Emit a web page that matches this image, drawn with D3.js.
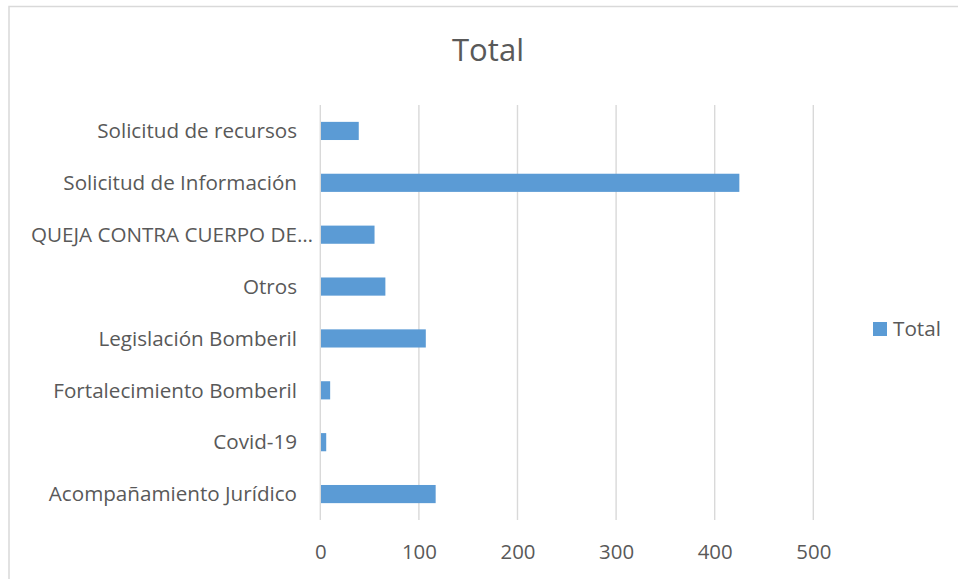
<!DOCTYPE html>
<html>
<head>
<meta charset="utf-8">
<script src="https://cdn.jsdelivr.net/npm/d3@7"></script>
<style>
  html, body { margin: 0; padding: 0; background: #fff; }
  svg { display: block; }
</style>
</head>
<body>
<svg id="chart" width="958" height="579"></svg>
<script>
const categories = [
  "Solicitud de recursos",
  "Solicitud de Información",
  "QUEJA CONTRA CUERPO DE…",
  "Otros",
  "Legislación Bomberil",
  "Fortalecimiento Bomberil",
  "Covid-19",
  "Acompañamiento Jurídico"
];
const values = [39, 425, 55, 66, 107, 10, 6, 117];
const ticks = [0, 100, 200, 300, 400, 500];
const seriesName = "Total";
const title = "Total";

const FONT = "'Open Sans', 'Noto Sans', sans-serif";
const TEXT = "#595959";
const GRID = "#d9d9d9";
const BAR = "#5B9BD5";

const svg = d3.select("#chart");

// chart border
svg.append("rect")
  .attr("x", 9).attr("y", 6.5)
  .attr("width", 958).attr("height", 600)
  .attr("fill", "none").attr("stroke", GRID).attr("stroke-width", 1.5);

// measure helper to fit font sizes to reference widths
function fitSize(text, targetWidth, base) {
  const t = svg.append("text").attr("font-family", FONT).attr("font-size", base).text(text);
  const w = t.node().getComputedTextLength();
  t.remove();
  return base * targetWidth / w;
}
const labelSize = fitSize("Solicitud de recursos", 200, 20);
const tickSize = fitSize("100", 35, 20);
const titleSize = fitSize("Total", 72, 30);

const x = d3.scaleLinear().domain([0, 500]).range([320.3, 813.3]);
const y = d3.scaleBand().domain(categories).range([105, 520]).paddingInner(0.65).paddingOuter(0.325);

// gridlines
svg.append("g").selectAll("line").data(ticks).join("line")
  .attr("x1", d => x(d)).attr("x2", d => x(d))
  .attr("y1", 105).attr("y2", 520)
  .attr("stroke", GRID).attr("stroke-width", 1.4);

// bars
svg.append("g").selectAll("rect").data(values).join("rect")
  .attr("x", x(0) + 0.7)
  .attr("y", (d, i) => y(categories[i]))
  .attr("width", d => x(d) - x(0) - 0.7)
  .attr("height", y.bandwidth())
  .attr("fill", BAR);

// x axis tick labels
const xAxis = d3.axisBottom(x).tickValues(ticks).tickSize(0).tickPadding(0);
const gx = svg.append("g").attr("transform", "translate(0,551.7)").call(xAxis);
gx.select(".domain").remove();
gx.selectAll("text")
  .attr("font-family", FONT).attr("font-size", tickSize)
  .attr("fill", TEXT).attr("dy", "0.35em").attr("y", 0);

// y axis category labels
const yAxis = d3.axisLeft(y).tickSize(0).tickPadding(0);
const gy = svg.append("g").attr("transform", "translate(297,0)").call(yAxis);
gy.select(".domain").remove();
gy.selectAll("text")
  .attr("font-family", FONT).attr("font-size", labelSize)
  .attr("fill", TEXT).attr("dy", "0.35em")
  .attr("x", d => d.endsWith("…") ? 16 : 0);

// title
svg.append("text")
  .attr("x", 488).attr("y", 50)
  .attr("text-anchor", "middle").attr("dy", "0.35em")
  .attr("font-family", FONT).attr("font-size", titleSize)
  .attr("fill", TEXT).text(title);

// legend
const lg = svg.append("g");
lg.append("rect").attr("x", 873).attr("y", 322).attr("width", 14).attr("height", 14).attr("fill", BAR);
lg.append("text").attr("x", 893).attr("y", 329).attr("dy", "0.35em")
  .attr("font-family", FONT).attr("font-size", fitSize("Total", 48, 20))
  .attr("fill", TEXT).text(seriesName);
</script>
</body>
</html>
